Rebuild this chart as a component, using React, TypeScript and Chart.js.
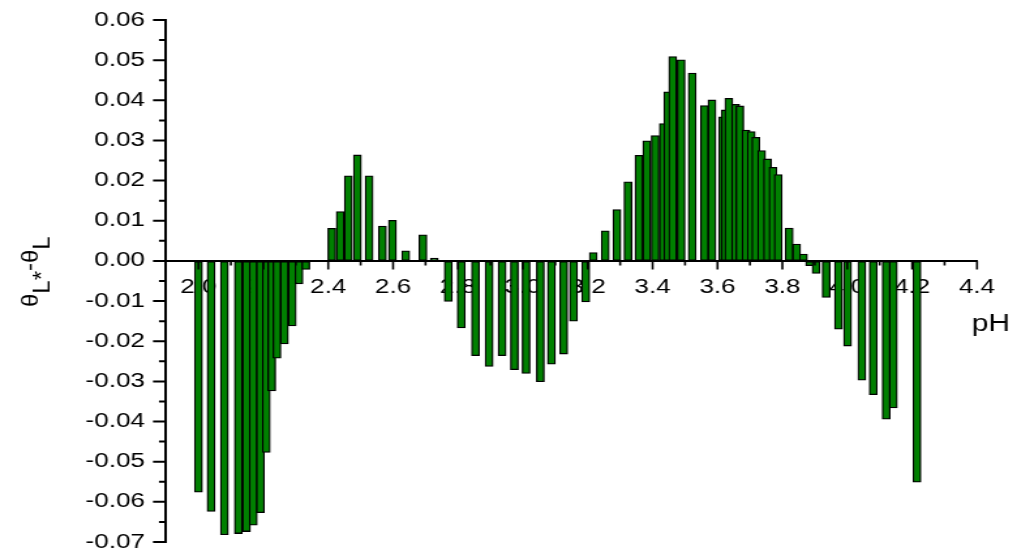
import { useEffect, useRef } from 'react';
import { Chart, registerables } from 'chart.js';

Chart.register(...registerables);

// pH of each measurement and the corresponding θL* − θL difference
const PH = [
  2.000, 2.039, 2.080, 2.123, 2.148, 2.169, 2.191, 2.209, 2.226, 2.242, 2.265, 2.289, 2.310, 2.331,
  2.411, 2.437, 2.462, 2.490, 2.526, 2.567, 2.598, 2.639, 2.692, 2.727,
  2.770, 2.810, 2.854, 2.896, 2.936, 2.974, 3.010, 3.054, 3.088, 3.126, 3.156, 3.194,
  3.217, 3.254, 3.290, 3.324, 3.358, 3.382, 3.408, 3.433, 3.447, 3.462,
  3.488, 3.522, 3.560, 3.583, 3.616, 3.624, 3.635, 3.656, 3.669, 3.688,
  3.704, 3.718, 3.736, 3.754, 3.771, 3.787, 3.821, 3.844, 3.865,
  3.884, 3.904, 3.935, 3.973, 4.001, 4.045, 4.080, 4.120, 4.142, 4.215,
];

const DELTA = [
  -0.0576, -0.0624, -0.0682, -0.0679, -0.0674, -0.0658, -0.0627, -0.0477, -0.0324, -0.0242, -0.0207, -0.0162, -0.0057, -0.0021,
  0.0081, 0.0123, 0.0212, 0.0264, 0.0212, 0.0087, 0.0101, 0.0025, 0.0065, 0.0007,
  -0.0101, -0.0167, -0.0236, -0.0263, -0.0236, -0.0271, -0.0280, -0.0301, -0.0257, -0.0232, -0.0150, -0.0102,
  0.0021, 0.0075, 0.0128, 0.0197, 0.0263, 0.0299, 0.0312, 0.0342, 0.0421, 0.0509,
  0.0501, 0.0468, 0.0387, 0.0401, 0.0359, 0.0376, 0.0405, 0.0390, 0.0386, 0.0326,
  0.0322, 0.0308, 0.0275, 0.0254, 0.0233, 0.0215, 0.0082, 0.0042, 0.0017,
  -0.0012, -0.0031, -0.0091, -0.0170, -0.0212, -0.0297, -0.0333, -0.0394, -0.0366, -0.0551,
];

const X_TICKS = [2.0, 2.2, 2.4, 2.6, 2.8, 3.0, 3.2, 3.4, 3.6, 3.8, 4.0, 4.2, 4.4];
const X_MINOR = [2.1, 2.3, 2.5, 2.7, 2.9, 3.1, 3.3, 3.5, 3.7, 3.9, 4.1, 4.3];
const Y_TICKS = [-0.07, -0.06, -0.05, -0.04, -0.03, -0.02, -0.01, 0, 0.01, 0.02, 0.03, 0.04, 0.05, 0.06];
const Y_MINOR = [-0.065, -0.055, -0.045, -0.035, -0.025, -0.015, -0.005, 0.005, 0.015, 0.025, 0.035, 0.045, 0.055];

const X_TITLE = 'pH';
// y title pieces: [text, isSubscript]
const Y_TITLE: [string, boolean][] = [['θ', false], ['L*', true], ['-θ', false], ['L', true]];

// The canvas is drawn narrower and widened by CSS, giving the broad lettering.
const OUT_W = 1017;
const OUT_H = 550;
const CANVAS_W = 780;
const SX = OUT_W / CANVAS_W;
const FONT = '"Liberation Sans", Arial, Helvetica, sans-serif';

// plot frame in output pixels
const PLOT_LEFT = 166;
const PLOT_RIGHT = 977;
const PLOT_TOP = 20;
const PLOT_BOTTOM = 542;

const tickMarks = {
  id: 'tickMarks',
  afterDatasetsDraw(chart: any) {
    const { ctx, scales, chartArea } = chart;
    const x = scales.x;
    const y = scales.y;
    const y0 = y.getPixelForValue(0);
    const left = chartArea.left;
    ctx.save();
    ctx.strokeStyle = '#000';
    ctx.lineWidth = 1.6;
    ctx.beginPath();
    X_TICKS.forEach((v) => {
      const px = x.getPixelForValue(v);
      ctx.moveTo(px, y0);
      ctx.lineTo(px, y0 + 8.5);
    });
    X_MINOR.forEach((v) => {
      const px = x.getPixelForValue(v);
      ctx.moveTo(px, y0);
      ctx.lineTo(px, y0 + 4.5);
    });
    ctx.stroke();
    ctx.lineWidth = 2;
    ctx.beginPath();
    Y_TICKS.forEach((v) => {
      const py = y.getPixelForValue(v);
      ctx.moveTo(left, py);
      ctx.lineTo(left - 13 / SX, py);
    });
    Y_MINOR.forEach((v) => {
      const py = y.getPixelForValue(v);
      ctx.moveTo(left, py);
      ctx.lineTo(left - 7 / SX, py);
    });
    ctx.stroke();
    ctx.restore();
  },
};

const axisTitles = {
  id: 'axisTitles',
  afterDraw(chart: any) {
    const { ctx } = chart;
    // rotated y title, drawn in output pixels so its glyphs keep natural proportions
    ctx.save();
    ctx.fillStyle = '#000';
    ctx.scale(1 / SX, 1);
    ctx.translate(38, 307);
    ctx.rotate(-Math.PI / 2);
    ctx.font = `24px ${FONT}`;
    ctx.textBaseline = 'alphabetic';
    ctx.textAlign = 'left';
    let pos = 0;
    Y_TITLE.forEach(([text, sub]) => {
      ctx.fillText(text, pos, sub ? 12 : 0);
      pos += ctx.measureText(text).width;
    });
    ctx.restore();

    ctx.save();
    ctx.fillStyle = '#000';
    ctx.font = `23px ${FONT}`;
    ctx.textAlign = 'right';
    ctx.textBaseline = 'alphabetic';
    ctx.fillText(X_TITLE, 1010 / SX, 331);
    ctx.restore();
  },
};

export default function App() {
  const canvasRef = useRef<HTMLCanvasElement | null>(null);

  useEffect(() => {
    const canvas = canvasRef.current;
    if (!canvas) return;
    const chart = new Chart(canvas, {
      type: 'bar',
      data: {
        datasets: [
          {
            data: PH.map((p, i) => ({ x: p, y: DELTA[i] })),
            backgroundColor: '#008000',
            borderColor: '#000000',
            borderWidth: 1.3,
            borderSkipped: false,
            barThickness: 8 / SX,
          },
        ],
      },
      options: {
        responsive: false,
        animation: false,
        devicePixelRatio: 1,
        events: [],
        layout: {
          padding: {
            left: 0,
            right: CANVAS_W - PLOT_RIGHT / SX,
            top: PLOT_TOP,
            bottom: OUT_H - PLOT_BOTTOM,
          },
        },
        plugins: {
          legend: { display: false },
          tooltip: { enabled: false },
        },
        scales: {
          x: {
            type: 'linear',
            min: 1.9,
            max: 4.4,
            offset: false,
            position: { y: 0 },
            afterBuildTicks: (s: any) => {
              s.ticks = X_TICKS.map((value) => ({ value }));
            },
            afterFit: (s: any) => {
              s.paddingLeft = 0;
              s.paddingRight = 0;
            },
            grid: {
              offset: false,
              drawOnChartArea: false,
              drawTicks: true,
              tickLength: 8,
              tickColor: 'rgba(0,0,0,0)',
            },
            border: { display: true, color: '#000', width: 2 },
            ticks: {
              color: '#000',
              font: { family: FONT, size: 20 },
              padding: 7,
              maxRotation: 0,
              autoSkip: false,
              callback: (v: any) => Number(v).toFixed(1),
            },
          },
          y: {
            type: 'linear',
            min: -0.07,
            max: 0.06,
            position: 'left',
            afterBuildTicks: (s: any) => {
              s.ticks = Y_TICKS.map((value) => ({ value }));
            },
            afterFit: (s: any) => {
              s.width = PLOT_LEFT / SX;
              s.paddingTop = 0;
              s.paddingBottom = 0;
            },
            grid: {
              drawOnChartArea: false,
              drawTicks: true,
              tickLength: 13 / SX,
              tickColor: 'rgba(0,0,0,0)',
            },
            border: { display: true, color: '#000', width: 2 },
            ticks: {
              color: '#000',
              font: { family: FONT, size: 20 },
              padding: 8 / SX,
              autoSkip: false,
              callback: (v: any) => Number(v).toFixed(2),
            },
          },
        },
      } as any,
      plugins: [tickMarks, axisTitles],
    });
    return () => chart.destroy();
  }, []);

  return (
    <div style={{ position: 'fixed', left: 0, top: 0, width: OUT_W, height: OUT_H, background: '#fff' }}>
      <canvas
        ref={canvasRef}
        width={CANVAS_W}
        height={OUT_H}
        style={{ width: `${OUT_W}px`, height: `${OUT_H}px`, display: 'block' }}
      />
    </div>
  );
}
